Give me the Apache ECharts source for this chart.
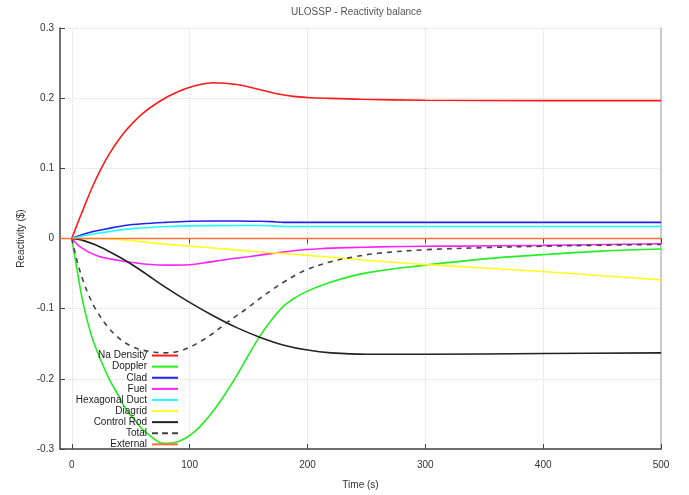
<!DOCTYPE html>
<html><head><meta charset="utf-8">
<script src="https://cdn.jsdelivr.net/npm/echarts@6/dist/echarts.min.js"></script>
<style>html,body{margin:0;padding:0;background:#fff}#c{width:689px;height:495px}</style>
</head><body><div id="c"></div>
<script>
// ---- data ----
const xTicks = [0, 100, 200, 300, 400, 500];
const yTicks = [-0.3, -0.2, -0.1, 0, 0.1, 0.2, 0.3];

const naT = [0,5,10,18,25,32,40,47,60,75,90,103,120,140,160,175,188,200,217,245,300,400,500];
const naV = [0,0.022,0.043,0.0755,0.100,0.121,0.141,0.156,0.178,0.196,0.209,0.217,0.222,0.2195,0.212,0.206,0.2026,0.201,0.1998,0.1984,0.197,0.1965,0.1965];

const dopT = [0,5,10,17,25,32,40,46,55,60,68,75,82,89,96,103,110,120,130,140,150,160,170,180,190,200,220,250,300,350,400,450,500];
const dopV = [0,-0.05,-0.095,-0.14,-0.175,-0.201,-0.225,-0.2436,-0.262,-0.272,-0.283,-0.291,-0.292,-0.290,-0.285,-0.277,-0.266,-0.246,-0.222,-0.195,-0.166,-0.138,-0.115,-0.096,-0.084,-0.075,-0.062,-0.049,-0.038,-0.029,-0.023,-0.018,-0.015];

const cladT = [0,10,20,30,45,60,80,100,120,140,160,170,180,200,300,400,500];
const cladV = [0,0.006,0.0106,0.014,0.0185,0.021,0.023,0.0245,0.025,0.025,0.0245,0.024,0.023,0.023,0.023,0.023,0.023];

const fuelT = [0,8,22,39,55,70,85,100,115,131,150,169,190,210,235,261,300,329,400,500];
const fuelV = [0,-0.013,-0.025,-0.031,-0.035,-0.0375,-0.038,-0.0375,-0.034,-0.030,-0.026,-0.0215,-0.017,-0.0146,-0.013,-0.012,-0.011,-0.0108,-0.0098,-0.0075];

const hexT = [0,10,20,30,45,60,80,100,140,160,170,180,200,300,500];
const hexV = [0,0.004,0.0068,0.0095,0.013,0.015,0.017,0.018,0.0185,0.0185,0.018,0.0172,0.017,0.017,0.017];

const diaT = [0,20,39,80,120,158,200,250,295,350,398,450,500];
const diaV = [0,-0.0003,-0.0014,-0.008,-0.0135,-0.0188,-0.024,-0.031,-0.0367,-0.042,-0.047,-0.053,-0.059];

const crT = [0,10,20,30,40,50,60,80,100,120,140,160,180,200,220,250,300,400,500];
const crV = [0,-0.003,-0.009,-0.017,-0.026,-0.036,-0.047,-0.070,-0.091,-0.110,-0.127,-0.141,-0.152,-0.159,-0.163,-0.165,-0.165,-0.164,-0.163];

const totT = [0,5,10,15,20,30,40,50,60,70,80,90,100,110,120,130,140,150,160,170,180,190,200,220,240,260,300,350,400,450,500];
const totV = [0,-0.035,-0.062,-0.083,-0.100,-0.125,-0.142,-0.153,-0.159,-0.162,-0.163,-0.161,-0.155,-0.146,-0.135,-0.122,-0.110,-0.098,-0.085,-0.073,-0.062,-0.052,-0.044,-0.033,-0.026,-0.021,-0.016,-0.013,-0.011,-0.0095,-0.0085];

const extT = [-10,0,500];
const extV = [0,0,0];

// ---- build ----
const zip = (t, v) => t.map((x, i) => [x, v[i]]);
const names = ['Na Density','Doppler','Clad','Fuel','Hexagonal Duct','Diagrid','Control Rod','Total','External'];
const colors = ['#ff1a1a','#22ee22','#2222ee','#ff22ff','#22ffff','#ffff22','#222222','#444444','#ff6f3a'];
const datas = [zip(naT,naV), zip(dopT,dopV), zip(cladT,cladV), zip(fuelT,fuelV), zip(hexT,hexV), zip(diaT,diaV), zip(crT,crV), zip(totT,totV), zip(extT,extV)];

const FF = 'Liberation Sans, Arial, sans-serif';
const series = names.map((n, i) => ({
  name: n, type: 'line', data: datas[i], showSymbol: false, symbol: 'none',
  smooth: 0.35, color: colors[i],
  lineStyle: { width: 1.6, color: colors[i], type: n === 'Total' ? [5, 5] : 'solid' },
  z: n === 'External' ? 5 : 3
}));

const chart = echarts.init(document.getElementById('c'), null, { renderer: 'canvas' });
const fmt = v => (Math.abs(v) < 1e-9 ? '0' : (+v.toFixed(1)).toString());
chart.setOption({
  animation: false,
  backgroundColor: '#fff',
  title: { text: 'ULOSSP - Reactivity balance', left: 286, top: 2,
    textStyle: { fontSize: 10, fontWeight: 'normal', color: '#555', fontFamily: FF } },
  grid: { left: 60, right: 28, top: 28, bottom: 42, containLabel: false },
  legend: {
    orient: 'vertical', right: 511, top: 350, align: 'right', padding: 0,
    itemGap: 0, itemWidth: 26, itemHeight: 2,
    textStyle: { fontSize: 10, lineHeight: 11.1, color: '#222', fontFamily: FF },
    data: names.map(n => ({ name: n, icon: n === 'Total' ? 'path://M0,0h6v2h-6zM10,0h6v2h-6zM20,0h6v2h-6z' : 'rect' }))
  },
  xAxis: [{
    type: 'value', min: -10, max: 500,
    name: 'Time (s)', nameLocation: 'middle', nameGap: 31,
    nameTextStyle: { fontSize: 10, color: '#333', fontFamily: FF },
    axisLine: { show: true, onZero: false, lineStyle: { color: '#444', width: 1.5 } },
    axisTick: { show: true, inside: true, length: 5, customValues: xTicks, lineStyle: { color: '#444' } },
    axisLabel: { customValues: xTicks, fontSize: 10, color: '#333', margin: 11, fontFamily: FF },
    splitLine: { show: true, lineStyle: { color: '#ddd', type: 'dotted', width: 1 } }
  }, {
    type: 'value', min: -10, max: 500, position: 'top',
    axisLine: { show: false },
    axisTick: { show: true, inside: true, length: 5, customValues: xTicks, lineStyle: { color: '#444' } },
    axisLabel: { show: false }, splitLine: { show: false }
  }],
  yAxis: [{
    type: 'value', min: -0.3, max: 0.3, interval: 0.1,
    name: 'Reactivity ($)', nameLocation: 'middle', nameGap: 33, nameRotate: 90,
    nameTextStyle: { fontSize: 10, color: '#333', fontFamily: FF },
    axisLine: { show: true, onZero: false, lineStyle: { color: '#444', width: 1.5 } },
    axisTick: { show: true, inside: true, length: 5, lineStyle: { color: '#444' } },
    axisLabel: { formatter: fmt, fontSize: 10, color: '#333', margin: 6, fontFamily: FF },
    splitLine: { show: true, lineStyle: { color: '#ddd', type: 'dotted', width: 1 } }
  }, {
    type: 'value', min: -0.3, max: 0.3, interval: 0.1, position: 'right',
    axisLine: { show: true, onZero: false, lineStyle: { color: '#bbb', width: 1.5 } },
    axisTick: { show: false }, axisLabel: { show: false }, splitLine: { show: false }
  }],
  series: series
});
</script></body></html>
